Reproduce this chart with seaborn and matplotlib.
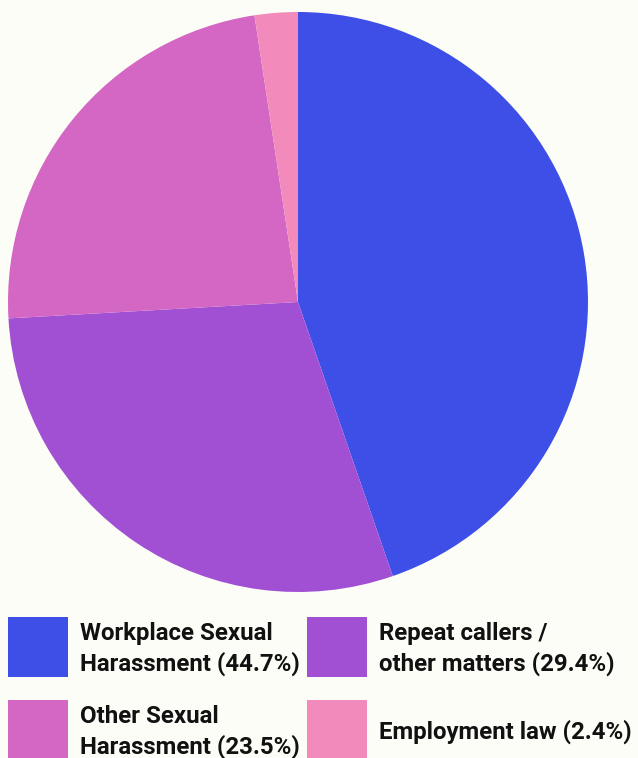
import matplotlib
matplotlib.use("Agg")
import matplotlib.pyplot as plt
import seaborn as sns
from matplotlib.patches import Rectangle

categories = ["Workplace Sexual\nHarassment", "Repeat callers /\nother matters",
              "Other Sexual\nHarassment", "Employment law"]
values = [44.7, 29.4, 23.5, 2.4]
colors = ["#3d4fe6", "#a150d4", "#d466c4", "#f28bbb"]
bg = "#fdfdf8"

sns.set_theme(style="white")
plt.rcParams["font.family"] = ["Roboto", "DejaVu Sans"]

W, H = 638, 758
fig = plt.figure(figsize=(W / 100, H / 100), dpi=100, facecolor=bg)

cx, cy, r = 298, 302, 290
ax = fig.add_axes([(cx - r) / W, (H - cy - r) / H, 2 * r / W, 2 * r / H])
ax.set_facecolor(bg)
ax.pie(values, colors=colors, startangle=90, counterclock=False,
       wedgeprops=dict(linewidth=0))
ax.set_xlim(-1, 1)
ax.set_ylim(-1, 1)
ax.set_aspect("equal")
ax.axis("off")

# legend (2 x 2 grid)
col_x = [8, 307]
row_y = [617, 700]
sq = 60
for i, (cat, val, col) in enumerate(zip(categories, values, colors)):
    c, rw = i % 2, i // 2
    x0, y0 = col_x[c], row_y[rw]
    fig.add_artist(Rectangle((x0 / W, (H - y0 - sq) / H), sq / W, sq / H,
                             transform=fig.transFigure, color=col, lw=0))
    fig.text((x0 + 72) / W, (H - y0 - sq / 2 - 2) / H, f"{cat} ({val}%)",
             ha="left", va="center", fontsize=17.3, fontweight="bold",
             color="#111111", linespacing=1.3)

fig.savefig("out.png", dpi=100, facecolor=bg)
